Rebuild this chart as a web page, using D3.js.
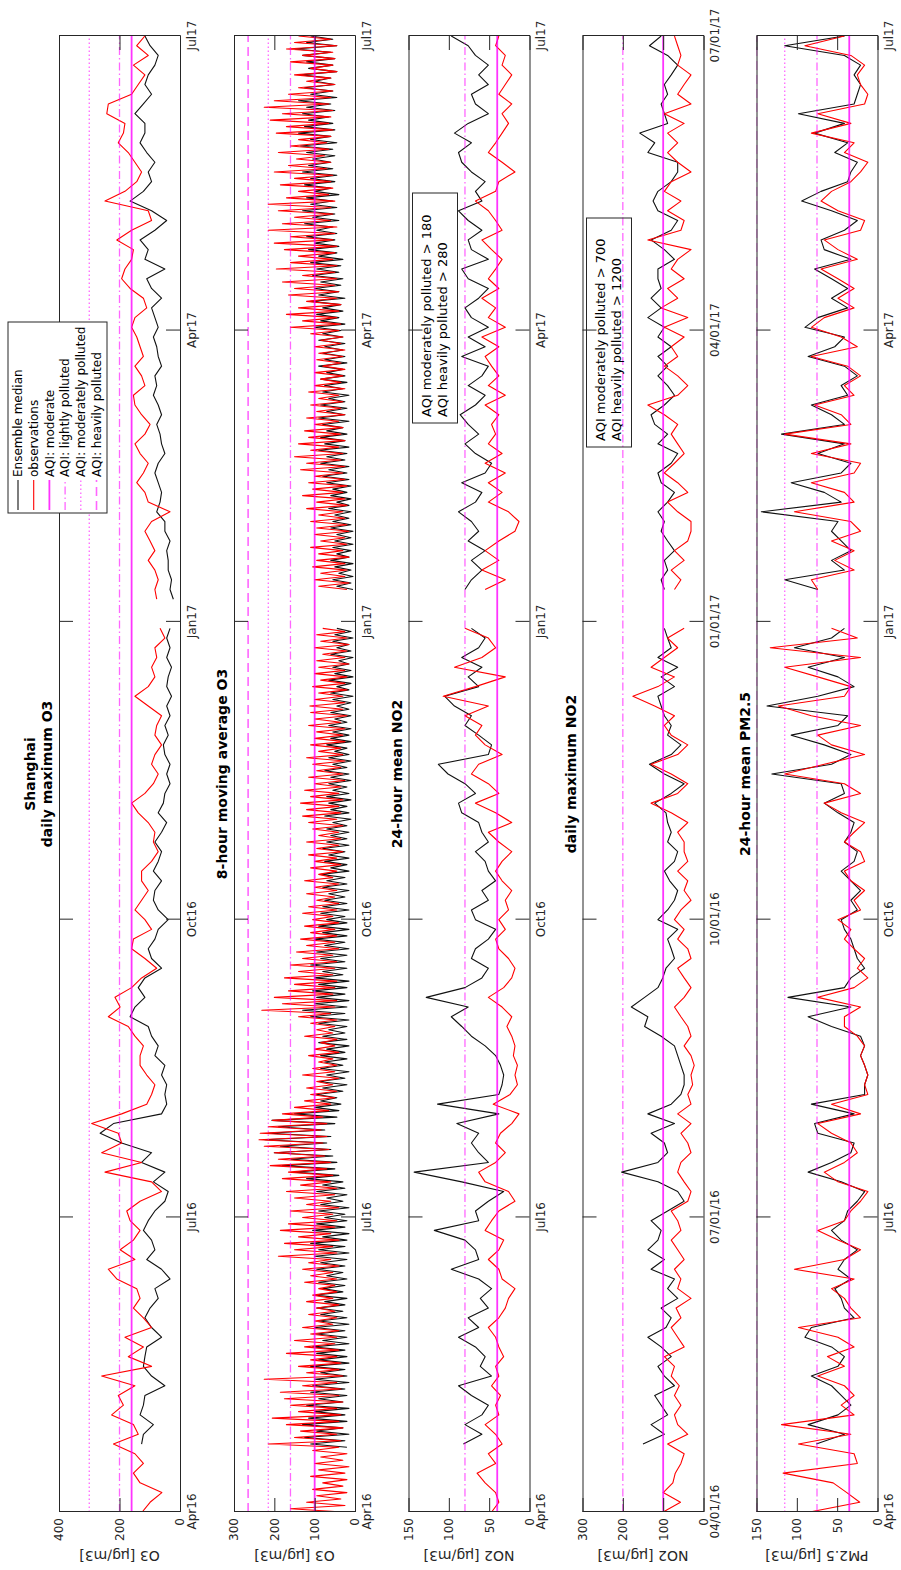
<!DOCTYPE html>
<html>
<head>
<meta charset="utf-8">
<script src="https://cdn.jsdelivr.net/npm/d3@7"></script>
<style>
  html, body { margin: 0; padding: 0; background: #fff; }
  svg { display: block; font-family: "DejaVu Sans", sans-serif; }
</style>
</head>
<body>
<svg id="chart" width="901" height="1570"></svg>
<script>
// ---------------------------------------------------------------
// Shanghai air quality: ensemble median forecast vs observations
// Apr 2016 - Jul 2017. Daily series sampled every 3 days,
// 8-hour moving average O3 sampled daily.
// ---------------------------------------------------------------

// daily maximum O3 [ug/m3]
const o3MaxObs = [125,99,60,132,154,121,149,220,138,154,226,187,204,149,259,94,171,121,182,94,121,154,132,143,209,237,149,198,154,132,165,176,132,61,94,248,127,259,193,204,292,193,110,94,83,110,132,132,121,149,171,
  237,198,215,160,127,77,116,160,154,94,116,149,127,105,127,127,94,72,88,83,105,138,160,116,88,72,94,83,61,83,77,61,105,149,105,83,94,77,83,50,66,null,null,77,83,72,83,105,83,99,116,
  94,33,105,116,143,121,105,132,149,116,99,127,149,154,116,127,149,121,132,143,160,149,110,121,165,193,182,160,154,209,160,94,105,248,182,143,127,149,171,204,187,182,242,237,160,138,116,154,105,143,116];
const o3MaxMod = [null,null,null,null,null,null,null,127,121,88,132,121,116,50,94,121,116,110,61,94,116,99,72,83,33,61,110,83,94,121,105,83,50,39,88,50,127,94,193,264,220,61,44,50,44,61,50,83,72,94,105,
  165,149,116,138,116,61,94,105,83,72,39,72,88,83,61,88,72,61,83,61,44,72,55,50,33,44,33,50,55,39,50,33,44,28,44,39,28,44,33,44,33,null,null,22,33,28,39,39,44,33,50,
  50,77,66,61,72,83,72,50,61,66,77,61,72,88,77,83,61,72,77,88,72,83,94,61,94,110,50,116,105,132,83,44,94,165,121,94,105,83,110,132,116,116,149,121,94,116,105,83,72,99,116];

// 8-hour moving average O3 [ug/m3], one value per day
const o3MdaObs = [30,160,25,120,35,95,20,105,30,80,
  20,110,25,90,15,100,30,85,20,105,
  40,215,35,150,45,135,30,170,40,205,
  35,140,45,160,30,175,40,185,35,130,
  45,225,30,120,40,140,35,110,45,170,
  40,125,50,150,45,110,40,130,55,100,
  45,115,50,95,40,120,55,105,45,90,
  50,125,45,110,55,130,40,115,60,190,
  45,150,55,175,40,140,60,185,50,165,
  45,130,55,160,40,120,60,150,50,170,
  45,135,60,180,55,165,70,210,60,190,
  75,200,65,225,80,238,70,235,85,215,
  70,205,80,180,65,150,60,125,50,110,
  45,120,55,95,40,130,50,105,45,90,
  55,115,40,100,50,85,45,125,55,95,
  50,110,45,140,60,231,50,180,45,200,
  55,165,50,150,45,175,55,140,50,160,
  45,130,55,145,40,120,50,135,45,110,
  50,125,40,105,55,130,45,115,40,95,
  50,120,45,100,40,125,55,90,45,110,
  35,100,45,115,30,95,40,120,35,90,
  40,105,30,115,45,130,35,120,40,135,
  30,110,40,125,35,100,25,115,30,95,
  35,105,25,120,30,90,35,110,25,100,
  30,95,25,115,35,100,20,110,30,112,
  25,100,30,90,20,105,25,85,20,100,
  25,90,15,95,25,80,20,100,15,85,
  20,95,25,80,null,null,null,null,null,null,
  null,null,null,null,null,20,90,15,100,25,
  85,20,105,25,95,15,90,30,110,20,
  85,25,100,15,95,20,110,25,90,30,
  120,20,95,25,130,30,105,20,115,25,
  100,30,135,25,120,35,150,30,110,40,
  140,25,115,35,125,30,100,40,120,25,
  95,35,110,30,90,40,115,25,100,35,
  85,30,100,25,80,35,95,30,90,25,
  100,35,85,30,110,40,160,35,130,45,
  170,40,140,35,120,45,165,40,150,50,
  180,45,130,50,195,45,160,55,140,50,
  175,45,200,55,160,50,215,45,180,60,
  150,55,190,60,215,50,170,65,140,55,
  185,60,150,55,200,70,165,60,145,75,
  190,65,160,70,140,60,195,55,170,65,
  210,60,180,55,225,65,200,60,165,55,
  140,50,120,60,150,45,110,55,160,50,
  130,55,170,45,150,60,140];
const o3MdaMod = [null,null,null,null,null,null,null,null,null,null,
  null,null,null,null,null,null,null,null,null,null,
  20,110,25,125,15,95,30,130,20,115,
  25,100,15,120,30,90,20,110,25,105,
  15,100,20,85,25,110,15,90,20,95,
  25,105,15,80,20,95,25,100,15,90,
  20,85,30,95,25,75,20,100,30,80,
  25,90,20,70,30,95,25,85,20,100,
  15,90,25,110,20,80,15,105,25,95,
  20,75,25,90,15,85,30,70,20,95,
  25,80,30,120,40,150,50,180,45,160,
  55,200,60,185,70,223,60,215,75,190,
  50,206,45,150,40,100,35,85,45,95,
  30,80,20,90,25,70,15,85,30,75,
  20,85,25,70,15,90,20,80,25,65,
  20,90,15,110,25,130,20,100,15,95,
  25,105,20,90,15,100,30,80,20,110,
  25,85,20,95,15,75,25,100,20,80,
  15,90,20,70,25,85,15,80,20,75,
  25,65,15,80,20,70,25,85,15,60,
  20,75,15,65,25,80,15,70,20,60,
  15,70,20,55,10,75,15,60,20,65,
  10,70,15,55,20,65,10,60,15,75,
  20,55,10,65,15,50,20,70,10,60,
  15,55,10,65,20,50,10,60,15,45,
  10,55,5,60,15,45,10,65,5,50,
  10,55,15,40,5,60,10,45,15,55,
  5,50,10,45,null,null,null,null,null,null,
  null,null,null,null,null,5,45,10,55,5,
  40,10,50,5,60,15,45,10,55,5,
  50,10,45,5,60,10,55,15,50,10,
  65,15,45,10,60,20,55,10,70,15,
  80,20,65,15,85,25,70,20,90,15,
  75,25,85,20,70,30,80,15,90,25,
  70,20,85,25,65,15,80,30,75,20,
  85,25,70,30,90,20,75,25,80,30,
  75,25,90,30,80,35,100,25,85,40,
  95,30,80,35,110,25,90,40,100,35,
  85,30,105,40,95,35,110,30,90,45,
  115,40,100,50,120,45,95,55,125,40,
  105,50,130,45,110,55,120,40,100,60,
  125,50,110,45,130,55,115,60,105,50,
  120,55,135,45,110,60,140,50,125,55,
  115,65,130,50,120,60,140,45,110,55,
  125,50,100,60,135,45,115,55,120,50,
  130,60,149,45,120,55,110];

// 24-hour mean NO2 [ug/m3]
const no2DayObs = [47,38,42,55,65,42,51,34,42,55,38,42,36,47,38,42,32,38,42,51,38,30,26,18,34,38,51,38,32,55,47,38,18,26,55,63,42,30,42,36,22,13,45,24,15,18,15,20,18,22,28,
  22,34,51,32,22,18,26,38,42,30,38,26,30,22,34,42,34,22,38,51,22,42,67,38,51,72,63,34,55,67,59,80,51,107,67,30,93,59,42,51,80,null,null,null,55,30,59,38,55,38,18,
  13,26,51,34,51,30,55,34,51,42,47,38,55,30,51,38,47,55,38,59,30,51,42,59,38,51,42,34,47,59,34,42,51,67,42,38,18,34,51,42,34,26,34,22,38,30,22,34,30,42,38];
const no2DayMod = [null,null,null,null,null,null,null,82,59,80,59,51,72,88,47,61,55,67,88,63,76,51,61,47,63,97,63,67,80,118,63,67,51,32,84,143,51,63,72,63,90,38,114,38,34,32,36,42,55,72,84,
  97,76,128,80,59,51,72,67,51,42,67,72,51,59,42,51,55,67,51,59,63,84,88,67,80,101,113,51,47,63,80,72,93,105,63,76,59,84,63,55,72,null,null,null,80,72,59,72,55,76,63,
  72,88,67,59,84,55,47,67,80,63,76,86,67,55,76,59,51,84,55,76,51,72,80,63,51,76,84,51,72,76,59,76,88,59,67,55,72,84,88,72,93,76,51,67,72,51,63,51,67,76,97];

// daily maximum NO2 [ug/m3]
const no2MaxObs = [100,57,100,76,70,56,48,89,39,64,72,56,72,60,80,72,97,48,64,80,56,68,31,64,56,72,48,64,80,56,64,80,39,31,48,64,56,31,39,56,31,64,31,39,27,31,23,31,48,31,39,
  56,72,48,31,48,64,31,39,64,48,72,56,31,48,39,64,39,48,48,64,39,80,130,64,39,80,130,64,39,80,97,72,121,175,113,72,130,97,64,89,48,null,null,null,72,56,80,48,72,39,31,
  31,64,89,39,64,97,72,48,64,80,64,97,138,64,39,64,97,64,80,48,97,39,105,64,89,48,80,64,31,138,56,48,89,56,97,80,31,64,89,64,89,48,97,31,64,48,31,64,56,64,72];
const no2MaxMod = [null,null,null,null,null,null,null,150,97,130,89,105,121,72,97,113,80,105,138,93,80,105,64,89,72,130,97,138,113,105,130,89,48,64,113,203,113,89,97,130,72,138,80,56,48,48,56,64,72,105,146,
  138,179,146,113,101,93,72,80,89,64,113,89,72,64,84,97,72,64,89,80,89,93,121,80,48,97,134,80,56,89,80,97,105,113,72,105,64,113,80,89,97,null,null,null,97,105,89,97,72,89,105,
  97,113,89,72,105,113,80,64,113,89,121,130,97,72,89,113,89,113,80,113,97,138,105,130,105,113,113,72,97,130,80,64,113,125,113,80,64,64,138,121,158,89,97,105,89,97,80,64,89,134,105];

// 24-hour mean PM2.5 [ug/m3]
const pm25Obs = [84,22,38,55,117,25,29,98,33,119,29,45,29,41,74,41,62,29,49,98,21,33,41,57,29,103,41,21,49,74,41,33,21,12,49,66,41,25,33,57,74,21,57,12,16,12,16,21,16,25,41,
  41,21,74,29,12,25,16,29,41,33,49,21,29,16,33,41,16,21,41,29,16,45,66,21,41,115,66,16,57,74,21,82,123,41,33,74,115,21,133,25,57,null,null,null,74,82,29,53,29,57,21,
  33,103,29,41,82,29,21,82,33,115,33,45,78,29,41,21,37,82,25,45,82,66,29,49,29,49,70,25,49,66,21,16,49,70,57,33,21,12,41,29,82,33,74,16,12,21,25,16,33,90,41];
const pm25Mod = [null,null,null,null,null,null,null,76,41,86,49,33,45,57,82,49,41,57,90,82,29,41,45,53,33,49,41,25,45,57,41,37,25,16,45,86,57,33,29,74,78,29,82,16,16,12,16,21,16,21,57,
  86,33,111,41,33,16,25,29,33,41,45,25,33,21,33,45,29,25,41,33,29,49,66,41,45,131,57,33,66,107,49,37,137,74,29,49,86,41,103,57,41,null,null,null,74,115,41,57,33,45,57,
  49,144,45,66,107,45,33,74,41,119,41,57,82,37,45,25,41,86,53,41,90,74,37,57,37,57,78,33,66,70,41,25,57,94,70,37,33,25,53,37,78,41,98,29,25,21,29,21,41,115,41];

// AQI thresholds: [moderate, lightly, moderately, heavily polluted]
const o3MaxLevels  = [160, 200, 300, 400];
const o3MdaLevels  = [100, 160, 215, 265];
const no2DayLevels = [40, 80, 180, 280];
const no2MaxLevels = [100, 200, 700, 1200];
const pm25Levels   = [35, 75, 115, 150];

// value-axis ticks
const o3MaxTicks  = [0, 200, 400];
const o3MdaTicks  = [0, 100, 200, 300];
const no2DayTicks = [0, 50, 100, 150];
const no2MaxTicks = [0, 100, 200, 300];
const pm25Ticks   = [0, 50, 100, 150];

// time-axis ticks and labels
const timeTicks   = ["2016-04-01", "2016-07-01", "2016-10-01", "2017-01-01", "2017-04-01", "2017-07-01"];
const monthLabels = ["Apr16", "Jul16", "Oct16", "Jan17", "Apr17", "Jul17"];
const dateLabels  = ["04/01/16", "07/01/16", "10/01/16", "01/01/17", "04/01/17", "07/01/17"];

const levelNames = ["AQI: moderate", "AQI: lightly polluted", "AQI: moderately polluted", "AQI: heavily polluted"];

// ---------------------------------------------------------------
const DAY = 864e5;
const startDate = new Date(Date.UTC(2016, 3, 1));
const endDate = new Date(Date.UTC(2017, 6, 1));
const datesEvery = (n, step) => d3.range(n).map(i => new Date(+startDate + i * step * DAY));
const tickDates = timeTicks.map(s => new Date(s + "T00:00:00Z"));

const panels = [
  { title: ["Shanghai", "daily maximum O3"], ylabel: "O3 [\u00b5g/m3]", yMax: 400, ticks: o3MaxTicks,
    model: o3MaxMod, obs: o3MaxObs, step: 3, levels: o3MaxLevels, tlabels: monthLabels },
  { title: ["8-hour moving average O3"], ylabel: "O3 [\u00b5g/m3]", yMax: 300, ticks: o3MdaTicks,
    model: o3MdaMod, obs: o3MdaObs, step: 1, levels: o3MdaLevels, tlabels: monthLabels },
  { title: ["24-hour mean NO2"], ylabel: "NO2 [\u00b5g/m3]", yMax: 150, ticks: no2DayTicks,
    model: no2DayMod, obs: no2DayObs, step: 3, levels: no2DayLevels, tlabels: monthLabels },
  { title: ["daily maximum NO2"], ylabel: "NO2 [\u00b5g/m3]", yMax: 300, ticks: no2MaxTicks,
    model: no2MaxMod, obs: no2MaxObs, step: 3, levels: no2MaxLevels, tlabels: dateLabels },
  { title: ["24-hour mean PM2.5"], ylabel: "PM2.5 [\u00b5g/m3]", yMax: 150, ticks: pm25Ticks,
    model: pm25Mod, obs: pm25Obs, step: 3, levels: pm25Levels, tlabels: monthLabels }
];

// layout (drawn in landscape, then turned a quarter turn)
const FIG_W = 1570;
const plotLeft = 58, plotRight = 1534;
const panelTops = [59, 234, 408.5, 582.5, 756.5];
const panelH = 121;
const noteBoxes = [null, null, { x: 1147, w: 230 }, { x: 1123, w: 229 }, null];
const axisColor = "#262626";
const magenta = "#ff00ff";
const levelDash = [null, "8,3,1.5,3", "1.5,2.5", "9,5"];
const levelWidth = [1.8, 1.3, 1.3, 1.6];

const svg = d3.select("#chart");
const root = svg.append("g").attr("transform", `translate(0,${FIG_W}) rotate(-90)`);
const defs = root.append("defs");

const x = d3.scaleUtc().domain([startDate, endDate]).range([plotLeft, plotRight]);

panels.forEach((p, i) => {
  const top = panelTops[i];
  const bottom = top + panelH;
  const y = d3.scaleLinear().domain([0, p.yMax]).range([bottom, top]);
  const dates = datesEvery(p.obs.length, p.step);

  const clipId = "clip" + i;
  defs.append("clipPath").attr("id", clipId).append("rect")
    .attr("x", plotLeft).attr("y", top).attr("width", plotRight - plotLeft).attr("height", panelH);

  const pg = root.append("g");

  // series
  const line = d3.line()
    .defined(d => d[1] != null)
    .x(d => x(d[0]))
    .y(d => y(d[1]));
  const series = pg.append("g").attr("clip-path", `url(#${clipId})`);
  series.append("path")
    .attr("d", line(dates.map((d, k) => [d, p.model[k]])))
    .attr("fill", "none").attr("stroke", "#111").attr("stroke-width", 1.1)
    .attr("stroke-linejoin", "round");
  series.append("path")
    .attr("d", line(dates.map((d, k) => [d, p.obs[k]])))
    .attr("fill", "none").attr("stroke", "#ff0000").attr("stroke-width", 1.1)
    .attr("stroke-linejoin", "round");

  // AQI threshold lines within range
  p.levels.forEach((v, k) => {
    if (v > p.yMax) return;
    series.append("line")
      .attr("x1", plotLeft).attr("x2", plotRight)
      .attr("y1", y(v)).attr("y2", y(v))
      .attr("stroke", magenta).attr("stroke-opacity", k === 0 ? 0.8 : 0.6)
      .attr("stroke-width", levelWidth[k])
      .attr("stroke-dasharray", levelDash[k]);
  });

  // axes with inward ticks
  const axB = d3.axisBottom(x).tickValues(tickDates).tickFormat((d, k) => p.tlabels[k])
    .tickSizeInner(-14).tickSizeOuter(0).tickPadding(7);
  const axT = d3.axisTop(x).tickValues(tickDates).tickFormat("")
    .tickSizeInner(-14).tickSizeOuter(0);
  const axL = d3.axisLeft(y).tickValues(p.ticks).tickFormat(d3.format("d"))
    .tickSizeInner(-14).tickSizeOuter(0).tickPadding(6);
  const axR = d3.axisRight(y).tickValues(p.ticks).tickFormat("")
    .tickSizeInner(-14).tickSizeOuter(0);

  const axes = [
    pg.append("g").attr("transform", `translate(0,${bottom})`).call(axB),
    pg.append("g").attr("transform", `translate(0,${top})`).call(axT),
    pg.append("g").attr("transform", `translate(${plotLeft},0)`).call(axL),
    pg.append("g").attr("transform", `translate(${plotRight},0)`).call(axR)
  ];
  axes.forEach(a => {
    a.attr("color", axisColor).attr("font-family", "DejaVu Sans, sans-serif").attr("font-size", 12);
    a.selectAll("line, path").attr("stroke", axisColor).attr("stroke-width", 1);
  });

  // value-axis label
  pg.append("text")
    .attr("transform", `translate(19,${(top + bottom) / 2}) rotate(-90)`)
    .attr("text-anchor", "middle")
    .attr("font-size", 14).attr("fill", axisColor)
    .text(p.ylabel);

  // title
  const cx = (plotLeft + plotRight) / 2;
  p.title.forEach((t, k) => {
    pg.append("text")
      .attr("x", cx)
      .attr("y", top - 7 - (p.title.length - 1 - k) * 17)
      .attr("text-anchor", "middle")
      .attr("font-size", 14).attr("font-weight", "bold").attr("fill", "#000")
      .text(t);
  });

  // note for thresholds beyond the axis range
  const box = noteBoxes[i];
  if (box) {
    const lines = [
      `AQI moderately polluted > ${p.levels[2]}`,
      `AQI heavily polluted > ${p.levels[3]}`
    ];
    pg.append("rect")
      .attr("x", box.x).attr("y", top + 4)
      .attr("width", box.w).attr("height", 45)
      .attr("fill", "none").attr("stroke", axisColor).attr("stroke-width", 1);
    lines.forEach((t, k) => {
      pg.append("text")
        .attr("x", box.x + 6).attr("y", top + 22.5 + k * 16)
        .attr("font-size", 13).attr("fill", "#000")
        .text(t);
    });
  }
});

// legend
const legendItems = [
  { label: "Ensemble median", color: "#111", dash: null, width: 1.1, opacity: 1 },
  { label: "observations", color: "#ff0000", dash: null, width: 1.1, opacity: 1 }
].concat(levelNames.map((n, k) => ({ label: n, color: magenta, dash: levelDash[k], width: levelWidth[k], opacity: k === 0 ? 0.8 : 0.6 })));

const lg = root.append("g");
lg.append("rect").attr("x", 1057).attr("y", 8).attr("width", 191).attr("height", 99)
  .attr("fill", "#fff").attr("stroke", axisColor).attr("stroke-width", 1);
legendItems.forEach((it, k) => {
  const yy = 18 + k * 15.7;
  lg.append("line").attr("x1", 1060).attr("x2", 1090).attr("y1", yy).attr("y2", yy)
    .attr("stroke", it.color).attr("stroke-width", it.width)
    .attr("stroke-opacity", it.opacity)
    .attr("stroke-dasharray", it.dash);
  lg.append("text").attr("x", 1093).attr("y", yy).attr("dy", "0.35em")
    .attr("font-size", 12).attr("fill", "#000").text(it.label);
});
</script>
</body>
</html>
